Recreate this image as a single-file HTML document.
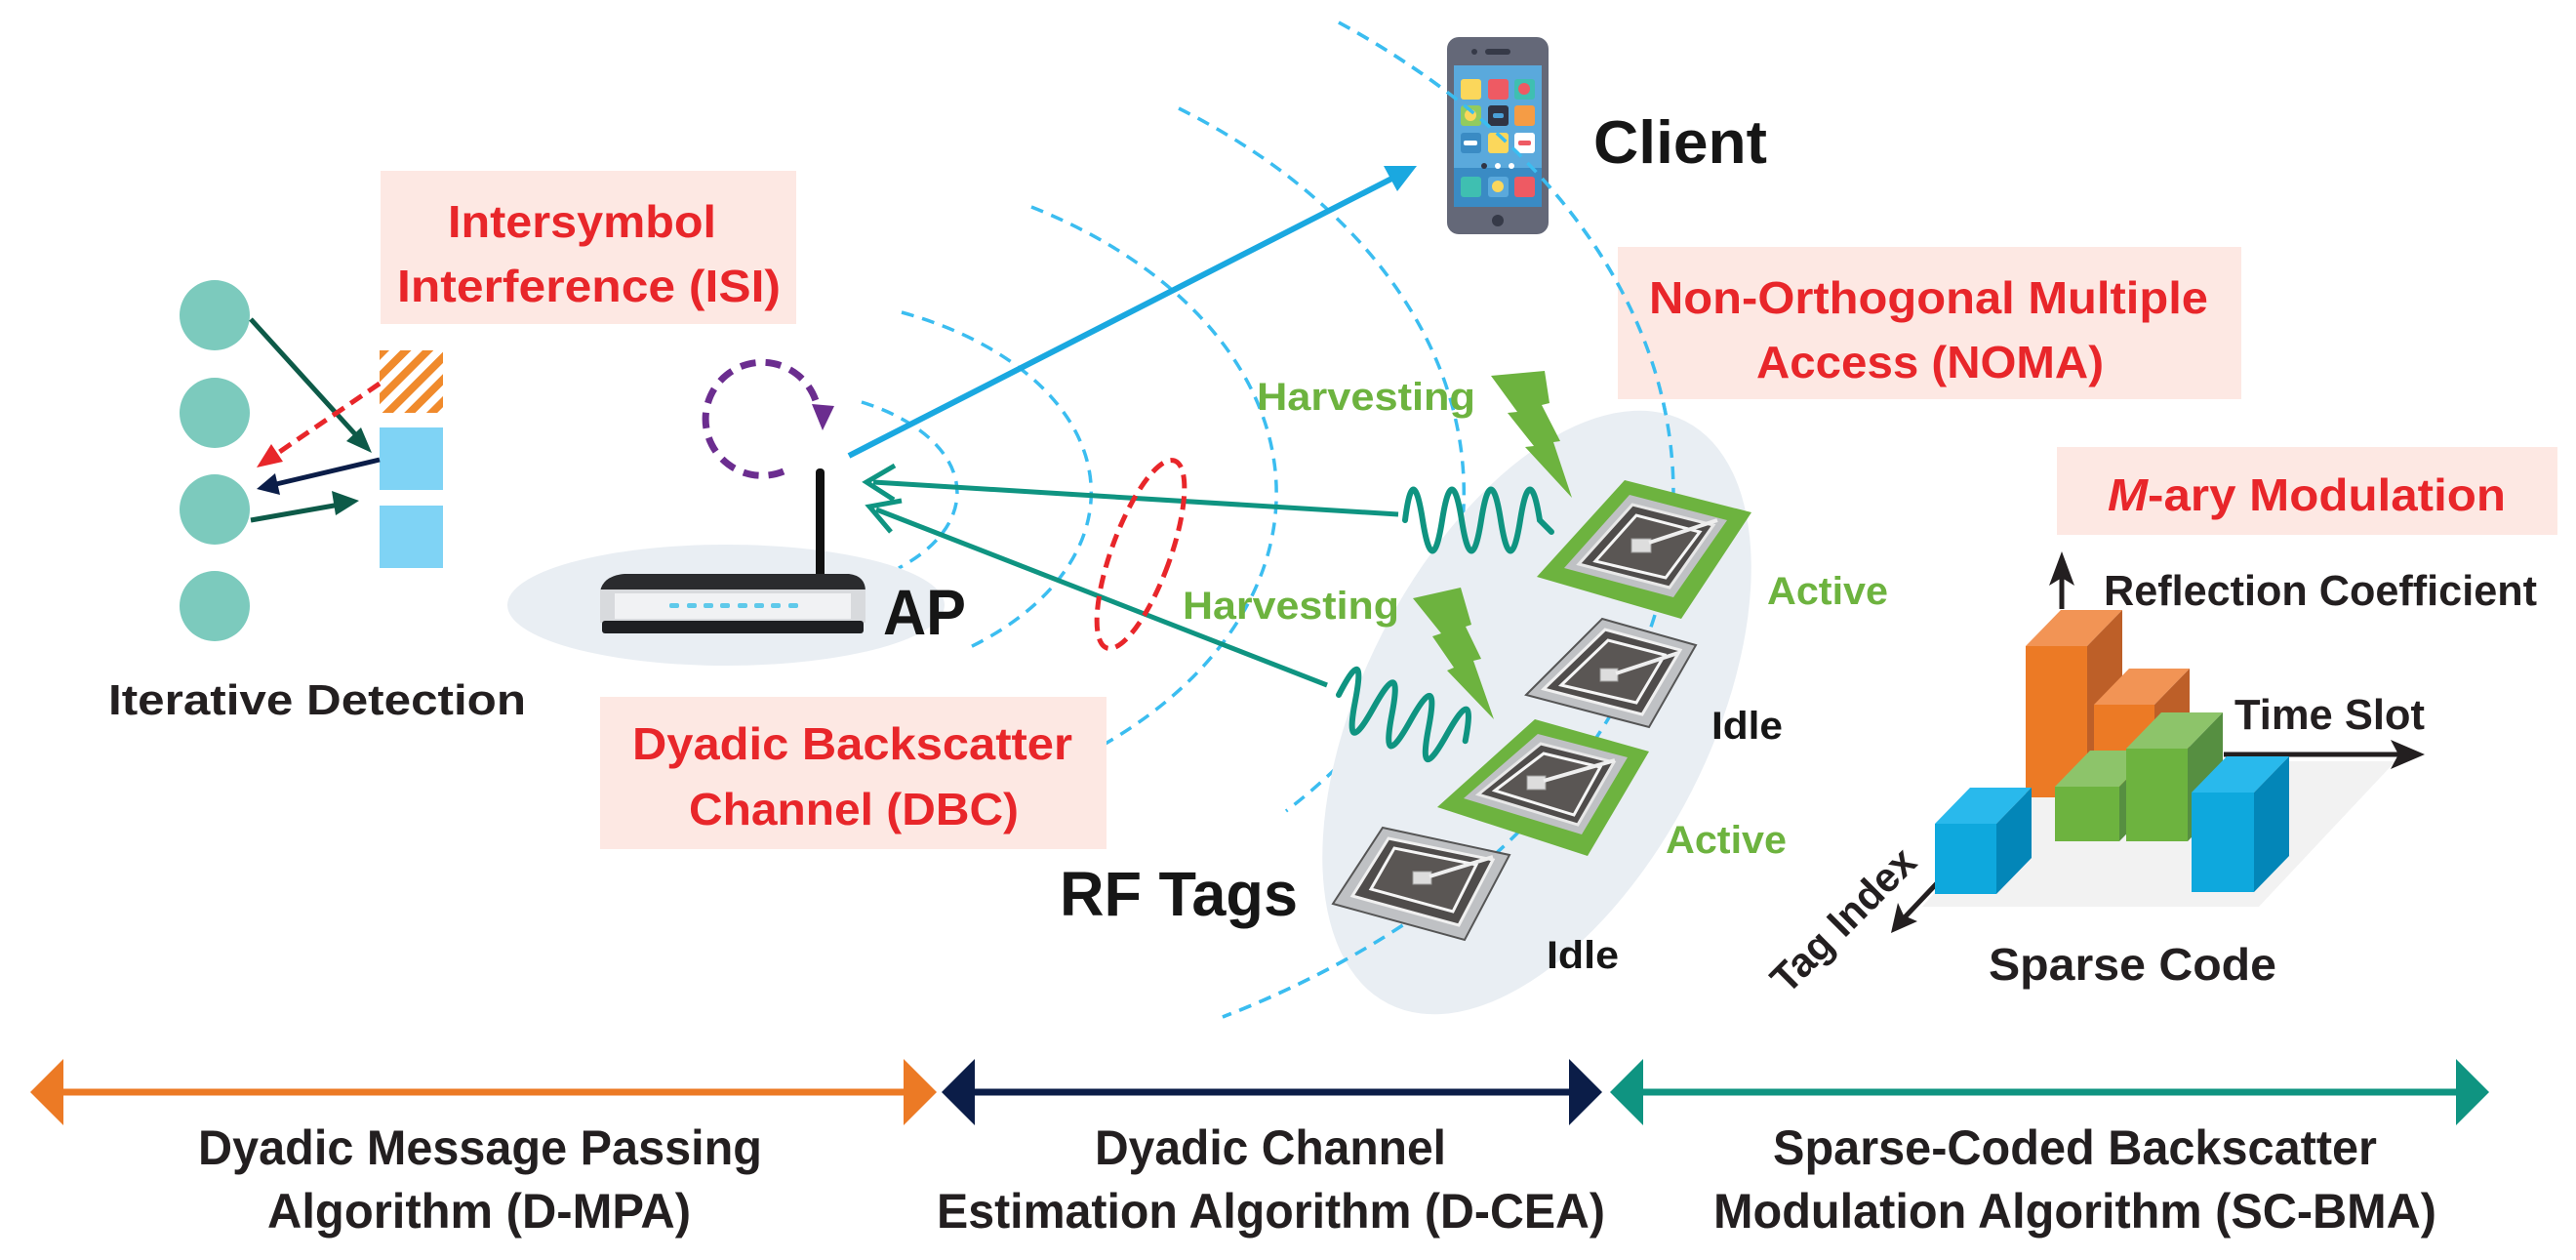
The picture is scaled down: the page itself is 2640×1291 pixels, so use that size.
<!DOCTYPE html>
<html><head><meta charset="utf-8"><style>
html,body{margin:0;padding:0;background:#fff;}
svg{display:block;}
text{font-family:"Liberation Sans",sans-serif;font-weight:bold;}
</style></head><body>
<svg width="2640" height="1291" viewBox="0 0 2640 1291" xmlns="http://www.w3.org/2000/svg">
<defs>
<pattern id="hatch" patternUnits="userSpaceOnUse" width="16" height="16" patternTransform="rotate(45)">
<rect width="16" height="16" fill="#fff"/><rect width="8" height="16" fill="#f08a2c"/>
</pattern>
</defs>

<g fill="#7ccabd">
<circle cx="220" cy="323" r="36"/><circle cx="220" cy="423" r="36"/>
<circle cx="220" cy="522" r="36"/><circle cx="220" cy="621" r="36"/>
</g>
<rect x="389" y="359" width="65" height="64" fill="url(#hatch)"/>
<rect x="389" y="438" width="65" height="64" fill="#7fd3f5"/>
<rect x="389" y="518" width="65" height="64" fill="#7fd3f5"/>
<line x1="257" y1="327" x2="365" y2="446" stroke="#0d5a48" stroke-width="5"/>
<polygon points="381,464 355,452 370,438" fill="#0d5a48"/>
<line x1="389" y1="393" x2="282" y2="466" stroke="#e8262a" stroke-width="5" stroke-dasharray="14,8"/>
<polygon points="263,479 278,455 290,473" fill="#e8262a"/>
<line x1="389" y1="471" x2="283" y2="496" stroke="#0b1d48" stroke-width="5"/>
<polygon points="263,501 282,485 287,507" fill="#0b1d48"/>
<line x1="257" y1="533" x2="348" y2="517" stroke="#0d5a48" stroke-width="5"/>
<polygon points="368,513 340,503 344,528" fill="#0d5a48"/>
<text x="111" y="732" font-size="44" fill="#231f20" textLength="428" lengthAdjust="spacingAndGlyphs">Iterative Detection</text>

<rect x="390" y="175" width="426" height="157" fill="#fde8e3"/>
<text x="459" y="243" font-size="46" fill="#e8262a" textLength="275" lengthAdjust="spacingAndGlyphs">Intersymbol</text>
<text x="407" y="309" font-size="46" fill="#e8262a" textLength="393" lengthAdjust="spacingAndGlyphs">Interference (ISI)</text>

<g fill="none" stroke="#3bbdf0" stroke-width="3.5" stroke-dasharray="13,9">
<path d="M883 412 A190 106 0 0 1 921 582"/>
<path d="M924 320 A327 202 0 0 1 988 666"/>
<path d="M1057 212 A517 342 0 0 1 1095 782"/>
<path d="M1208 111 A709 487 0 0 1 1318 831"/>
<path d="M1372 23 A924 620 0 0 1 1253 1042"/>
</g>

<ellipse cx="744" cy="620" rx="224" ry="62" fill="#e9eef3"/>
<rect x="836" y="480" width="9" height="112" rx="4" fill="#111"/>
<path d="M615 606 Q618 590 640 588 L870 588 Q887 590 887 606 Z" fill="#2a2b2e"/>
<rect x="615" y="604" width="272" height="34" fill="#d8dadd"/>
<rect x="630" y="608" width="242" height="26" fill="#f1f2f4"/>
<rect x="617" y="636" width="268" height="13" rx="3" fill="#1e1f22"/>
<g fill="#5fc9ea"><rect x="686" y="618" width="10" height="5" rx="2"/><rect x="704" y="618" width="10" height="5" rx="2"/><rect x="721" y="618" width="10" height="5" rx="2"/><rect x="738" y="618" width="10" height="5" rx="2"/><rect x="756" y="618" width="10" height="5" rx="2"/><rect x="773" y="618" width="10" height="5" rx="2"/><rect x="790" y="618" width="10" height="5" rx="2"/><rect x="808" y="618" width="10" height="5" rx="2"/></g>
<text x="905" y="650" font-size="66" fill="#161616" textLength="85" lengthAdjust="spacingAndGlyphs">AP</text>
<path d="M803 483 A58 58 0 1 1 838 418" fill="none" stroke="#6b2d8f" stroke-width="7" stroke-dasharray="16,10"/>
<polygon points="843,441 832,414 855,416" fill="#6b2d8f"/>

<line x1="870" y1="467" x2="1440" y2="176" stroke="#1aa8e0" stroke-width="6"/>
<polygon points="1452,170 1418,170 1432,196" fill="#1aa8e0"/>
<line x1="1433" y1="527" x2="895" y2="494" stroke="#0f9481" stroke-width="5"/>
<polyline points="917,477 888,494 916,512" fill="none" stroke="#0f9481" stroke-width="5"/>
<line x1="1360" y1="702" x2="898" y2="522" stroke="#0f9481" stroke-width="5"/>
<polyline points="924,513 891,519 913,545" fill="none" stroke="#0f9481" stroke-width="5"/>

<ellipse cx="1169" cy="568" rx="30" ry="102" transform="rotate(20 1169 568)" fill="none" stroke="#e8262a" stroke-width="5" stroke-dasharray="14,8"/>

<rect x="615" y="714" width="519" height="156" fill="#fde8e3"/>
<text x="648" y="778" font-size="46" fill="#e8262a" textLength="451" lengthAdjust="spacingAndGlyphs">Dyadic Backscatter</text>
<text x="706" y="845" font-size="46" fill="#e8262a" textLength="338" lengthAdjust="spacingAndGlyphs">Channel (DBC)</text>

<rect x="1483" y="38" width="104" height="202" rx="12" fill="#646878"/>
<rect x="1490" y="67" width="90" height="145" fill="#5aa9dc"/>
<rect x="1490" y="172" width="90" height="40" fill="#3a8bc4"/>
<rect x="1522" y="50" width="26" height="6" rx="3" fill="#363a48"/>
<circle cx="1511" cy="53" r="3" fill="#363a48"/>
<circle cx="1535" cy="226" r="6" fill="#363a48"/>
<rect x="1497" y="81" width="21" height="21" rx="3" fill="#fbd75b"/>
<rect x="1525" y="81" width="21" height="21" rx="3" fill="#ee5a63"/>
<rect x="1552" y="81" width="21" height="21" rx="3" fill="#3fbfb1"/><circle cx="1562" cy="91" r="6" fill="#ee5a63"/>
<rect x="1497" y="108" width="21" height="21" rx="3" fill="#92cb5e"/><circle cx="1507" cy="118" r="6" fill="#fbd75b"/>
<rect x="1525" y="108" width="21" height="21" rx="3" fill="#303444"/><rect x="1530" y="116" width="11" height="5" rx="2" fill="#4aa0d8"/>
<rect x="1552" y="108" width="21" height="21" rx="3" fill="#f59c45"/>
<rect x="1497" y="136" width="21" height="21" rx="3" fill="#3a8bc4"/><rect x="1500" y="144" width="14" height="5" rx="2" fill="#fff"/>
<rect x="1525" y="136" width="21" height="21" rx="3" fill="#fbd75b"/>
<rect x="1552" y="136" width="21" height="21" rx="3" fill="#fff"/><rect x="1556" y="144" width="13" height="5" rx="2" fill="#ee5a63"/>
<circle cx="1521" cy="170" r="3" fill="#303444"/><circle cx="1535" cy="170" r="3" fill="#fff"/><circle cx="1549" cy="170" r="3" fill="#fff"/>
<rect x="1497" y="181" width="21" height="21" rx="3" fill="#3fbfb1"/>
<rect x="1525" y="181" width="21" height="21" rx="3" fill="#5aa9dc"/><circle cx="1535" cy="191" r="6" fill="#fbd75b"/>
<rect x="1552" y="181" width="21" height="21" rx="3" fill="#ee5a63"/>
<text x="1633" y="167" font-size="62" fill="#161616" textLength="178" lengthAdjust="spacingAndGlyphs">Client</text>

<rect x="1658" y="253" width="639" height="156" fill="#fde8e3"/>
<text x="1690" y="321" font-size="46" fill="#e8262a" textLength="573" lengthAdjust="spacingAndGlyphs">Non-Orthogonal Multiple</text>
<text x="1800" y="387" font-size="46" fill="#e8262a" textLength="356" lengthAdjust="spacingAndGlyphs">Access (NOMA)</text>

<ellipse cx="1575" cy="730" rx="178" ry="335" transform="rotate(27 1575 730)" fill="#e9eef3"/>
<path d="M1372 23 A924 620 0 0 1 1253 1042" fill="none" stroke="#3bbdf0" stroke-width="3.5" stroke-dasharray="13,9"/>

<g>
<polygon points="1575,591 1665,492 1795,525 1723,634" fill="#6db33f"/>
<polygon points="1603,582 1670,507 1770,533 1715,612" fill="#bfc1c4"/>
<polygon points="1618,578 1673,517 1756,538 1711,602" fill="#4f4c4b" stroke="#e8e8e8" stroke-width="3"/>
<polygon points="1635,575 1677,528 1742,545 1707,592" fill="#5a5654" stroke="#f5f5f5" stroke-width="3"/>
<rect x="1672" y="552" width="20" height="14" fill="#ddd" stroke="#999"/><line x1="1690" y1="556" x2="1760" y2="533" stroke="#eee" stroke-width="4"/>
</g>
<g>
<polygon points="1564,712 1642,634 1738,661 1690,745" fill="#bfc1c4" stroke="#555" stroke-width="2"/>
<polygon points="1582,706 1645,645 1722,666 1683,732" fill="#4f4c4b" stroke="#f0f0f0" stroke-width="3"/>
<polygon points="1600,702 1648,656 1706,671 1677,720" fill="#5a5654" stroke="#f5f5f5" stroke-width="3"/>
<rect x="1640" y="685" width="18" height="13" fill="#ddd" stroke="#999"/><line x1="1656" y1="690" x2="1720" y2="669" stroke="#eee" stroke-width="4"/>
</g>
<g>
<polygon points="1473,827 1573,737 1690,770 1627,877" fill="#6db33f"/>
<polygon points="1500,818 1576,752 1668,776 1621,855" fill="#bfc1c4"/>
<polygon points="1515,814 1579,762 1654,781 1617,845" fill="#4f4c4b" stroke="#e8e8e8" stroke-width="3"/>
<polygon points="1532,810 1582,772 1640,786 1613,835" fill="#5a5654" stroke="#f5f5f5" stroke-width="3"/>
<rect x="1565" y="795" width="19" height="14" fill="#ddd" stroke="#999"/><line x1="1582" y1="800" x2="1655" y2="779" stroke="#eee" stroke-width="4"/>
</g>
<g>
<polygon points="1366,926 1417,848 1547,876 1501,963" fill="#bfc1c4" stroke="#555" stroke-width="2"/>
<polygon points="1386,918 1423,859 1530,881 1495,948" fill="#4f4c4b" stroke="#f0f0f0" stroke-width="3"/>
<polygon points="1405,911 1429,869 1513,886 1489,934" fill="#5a5654" stroke="#f5f5f5" stroke-width="3"/>
<rect x="1448" y="893" width="19" height="13" fill="#ddd" stroke="#999"/><line x1="1465" y1="898" x2="1530" y2="878" stroke="#eee" stroke-width="4"/>
</g>

<polygon points="1528,385 1583,380 1588,413 1580,415 1599,452 1592,453 1611,510 1563,458 1572,457 1545,423 1555,422" fill="#6db33f"/>
<polygon points="1448,613 1497,602 1508,640 1502,642 1518,675 1510,677 1531,737 1483,687 1490,684 1468,652 1477,649" fill="#6db33f"/>
<path d="M1440 533 Q1448 470 1458 533 Q1468 596 1478 533 Q1488 470 1498 533 Q1508 596 1518 533 Q1528 470 1538 533 Q1548 596 1558 533 Q1568 470 1578 533 L1590 545" fill="none" stroke="#0f9481" stroke-width="6" stroke-linecap="round"/>
<g transform="translate(1372,712) rotate(20)">
<path d="M0 0 Q8 -62 18 0 Q28 62 38 0 Q48 -62 58 0 Q68 62 78 0 Q88 -62 98 0 Q108 62 118 0 Q128 -62 138 0" fill="none" stroke="#0f9481" stroke-width="6" stroke-linecap="round"/>
</g>

<text x="1288" y="420" font-size="40" fill="#6db33f" textLength="224" lengthAdjust="spacingAndGlyphs">Harvesting</text>
<text x="1212" y="634" font-size="40" fill="#6db33f" textLength="222" lengthAdjust="spacingAndGlyphs">Harvesting</text>
<text x="1811" y="619" font-size="40" fill="#6db33f" textLength="124" lengthAdjust="spacingAndGlyphs">Active</text>
<text x="1754" y="757" font-size="40" fill="#161616" textLength="73" lengthAdjust="spacingAndGlyphs">Idle</text>
<text x="1707" y="874" font-size="40" fill="#6db33f" textLength="124" lengthAdjust="spacingAndGlyphs">Active</text>
<text x="1585" y="992" font-size="40" fill="#161616" textLength="74" lengthAdjust="spacingAndGlyphs">Idle</text>
<text x="1086" y="938" font-size="64" fill="#161616" textLength="244" lengthAdjust="spacingAndGlyphs">RF Tags</text>

<rect x="2108" y="458" width="513" height="90" fill="#fde8e3"/>
<text x="2160" y="523" font-size="46" fill="#e8262a" textLength="408" lengthAdjust="spacingAndGlyphs"><tspan font-style="italic">M</tspan>-ary Modulation</text>

<polygon points="1970,929 2315,929 2455,780 2100,780" fill="#f2f2f2"/>
<line x1="2113" y1="624" x2="2113" y2="585" stroke="#231f20" stroke-width="5"/>
<polygon points="2113,565 2100,600 2113,592 2126,600" fill="#231f20"/>
<line x1="2279" y1="773" x2="2470" y2="773" stroke="#231f20" stroke-width="5"/>
<polygon points="2485,773 2450,758 2458,773 2450,788" fill="#231f20"/>
<line x1="1985" y1="905" x2="1950" y2="942" stroke="#231f20" stroke-width="5"/>
<polygon points="1938,956 1945,925 1951,938 1965,944" fill="#231f20"/>
<text x="2156" y="620" font-size="44" fill="#231f20" textLength="444" lengthAdjust="spacingAndGlyphs">Reflection Coefficient</text>
<text x="2290" y="747" font-size="44" fill="#231f20" textLength="195" lengthAdjust="spacingAndGlyphs">Time Slot</text>
<text x="0" y="0" font-size="42" fill="#231f20" textLength="190" lengthAdjust="spacingAndGlyphs" transform="translate(1832,1020) rotate(-45)">Tag Index</text>
<text x="2038" y="1004" font-size="46" fill="#231f20" textLength="295" lengthAdjust="spacingAndGlyphs">Sparse Code</text>

<g>
<polygon points="2076,662 2112,625 2175,625 2139,662" fill="#f29455"/>
<polygon points="2139,662 2175,625 2175,780 2139,817" fill="#bd5f28"/>
<rect x="2076" y="662" width="63" height="155" fill="#ec7a25"/>
</g>
<g>
<polygon points="2146,722 2182,685 2244,685 2208,722" fill="#f29455"/>
<polygon points="2208,722 2244,685 2244,790 2208,827" fill="#bd5f28"/>
<rect x="2146" y="722" width="62" height="100" fill="#ec7a25"/>
</g>
<g>
<polygon points="2106,806 2142,769 2208,769 2172,806" fill="#8dc46a"/>
<polygon points="2172,806 2208,769 2208,825 2172,862" fill="#568f41"/>
<rect x="2106" y="806" width="66" height="56" fill="#6db33f"/>
</g>
<g>
<polygon points="2179,767 2215,730 2278,730 2242,767" fill="#8dc46a"/>
<polygon points="2242,767 2278,730 2278,825 2242,862" fill="#568f41"/>
<rect x="2179" y="767" width="63" height="95" fill="#6db33f"/>
</g>
<g>
<polygon points="1983,844 2019,807 2082,807 2046,844" fill="#29b9ec"/>
<polygon points="2046,844 2082,807 2082,879 2046,916" fill="#0386b8"/>
<rect x="1983" y="844" width="63" height="72" fill="#0ea8dd"/>
</g>
<g>
<polygon points="2246,812 2282,775 2346,775 2310,812" fill="#29b9ec"/>
<polygon points="2310,812 2346,775 2346,877 2310,914" fill="#0386b8"/>
<rect x="2246" y="812" width="64" height="102" fill="#0ea8dd"/>
</g>

<line x1="60" y1="1119" x2="930" y2="1119" stroke="#ec7a25" stroke-width="7"/>
<polygon points="31,1119 65,1085 65,1153" fill="#ec7a25"/>
<polygon points="960,1119 926,1085 926,1153" fill="#ec7a25"/>
<line x1="995" y1="1119" x2="1612" y2="1119" stroke="#0b1d48" stroke-width="7"/>
<polygon points="965,1119 999,1085 999,1153" fill="#0b1d48"/>
<polygon points="1642,1119 1608,1085 1608,1153" fill="#0b1d48"/>
<line x1="1680" y1="1119" x2="2521" y2="1119" stroke="#0f9481" stroke-width="7"/>
<polygon points="1650,1119 1684,1085 1684,1153" fill="#0f9481"/>
<polygon points="2551,1119 2517,1085 2517,1153" fill="#0f9481"/>

<g font-size="50" fill="#231f20">
<text x="203" y="1193" textLength="578" lengthAdjust="spacingAndGlyphs">Dyadic Message Passing</text>
<text x="274" y="1258" textLength="434" lengthAdjust="spacingAndGlyphs">Algorithm (D-MPA)</text>
<text x="1122" y="1193" textLength="360" lengthAdjust="spacingAndGlyphs">Dyadic Channel</text>
<text x="960" y="1258" textLength="685" lengthAdjust="spacingAndGlyphs">Estimation Algorithm (D-CEA)</text>
<text x="1817" y="1193" textLength="619" lengthAdjust="spacingAndGlyphs">Sparse-Coded Backscatter</text>
<text x="1756" y="1258" textLength="741" lengthAdjust="spacingAndGlyphs">Modulation Algorithm (SC-BMA)</text>
</g>
</svg>
</body></html>
